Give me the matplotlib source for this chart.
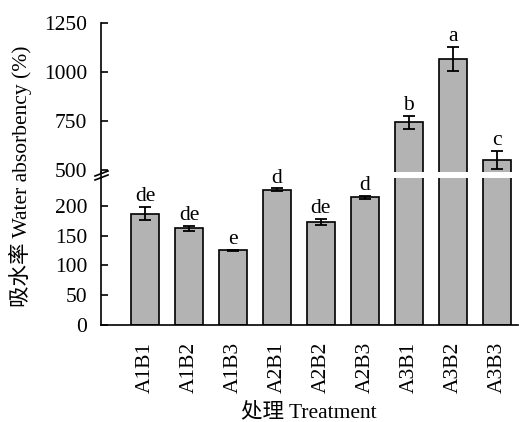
import numpy as np
import matplotlib.pyplot as plt
from matplotlib.lines import Line2D

plt.rcParams['font.family'] = ['Liberation Serif', 'Noto Sans CJK SC']
plt.rcParams['font.size'] = 15.5

treatments = ["A1B1", "A1B2", "A1B3", "A2B1", "A2B2", "A2B3", "A3B1", "A3B2", "A3B3"]
absorbency = [187, 162, 125, 227, 173, 214, 745, 1068, 555]
errors = [11, 4, 1.5, 2.5, 5, 2.5, 34, 62, 46]
letters = ["de", "de", "e", "d", "de", "d", "b", "a", "c"]

W, H = 519, 422
fig = plt.figure(figsize=(W / 100, H / 100), dpi=100)

# pixel box of the plotting area
left, right = 101, 518
low_bot, low_top = 325, 178
up_bot, up_top = 172, 23.3

ax_low = fig.add_axes([left / W, (H - low_bot) / H, (right - left) / W, (low_bot - low_top) / H])
ax_up = fig.add_axes([left / W, (H - up_bot) / H, (right - left) / W, (up_bot - up_top) / H])

x = np.arange(len(treatments))
for ax in (ax_low, ax_up):
    ax.bar(x, absorbency, width=0.62, color="#b3b3b3", edgecolor="black", linewidth=1.2, zorder=2)
    ax.errorbar(x, absorbency, yerr=errors, fmt="none", ecolor="black", elinewidth=1.3,
                capsize=4, capthick=1.3, zorder=3)
    ax.set_xlim(-1, 8.48)
    for s in ("top", "right"):
        ax.spines[s].set_visible(False)
    ax.spines["left"].set_linewidth(1.2)
    ax.tick_params(axis="y", direction="in", length=5, width=1.2, pad=10)
    ax.patch.set_alpha(0)

ax_low.set_ylim(0, 246.6)
ax_low.set_yticks([0, 50, 100, 150, 200])
ax_low.spines["bottom"].set_linewidth(1.2)
ax_low.set_xticks(x)
ax_low.set_xticklabels(treatments, rotation=90)
ax_low.tick_params(axis="x", length=0, pad=12)

ax_up.set_ylim(492, 1250)
ax_up.set_yticks([500, 750, 1000, 1250])
ax_up.spines["bottom"].set_visible(False)
ax_up.set_xticks([])

# significance letters above the error bars
for xi, v, e, t in zip(x, absorbency, errors, letters):
    ax = ax_up if v > 400 else ax_low
    ax.annotate(t, (xi, v + e), xytext=(0, 4), textcoords="offset points",
                ha="center", va="baseline")

# keep the y axis continuous across the gap and mark the break
fx = left / W
fig.add_artist(Line2D([fx, fx], [(H - low_top) / H, (H - up_bot) / H], color="black", lw=1.2))
for dy in (0, 4):
    fig.add_artist(Line2D([95 / W, 108 / W], [(H - (176 + dy)) / H, (H - (171 + dy)) / H],
                          color="black", lw=1.2))

fig.text(20 / W, (H - 176) / H, "吸水率 Water absorbency (%)", rotation=90,
         ha="center", va="center")
fig.text(309 / W, (H - 412) / H, "处理 Treatment", ha="center", va="center")

fig.savefig("out.png", dpi=100)
